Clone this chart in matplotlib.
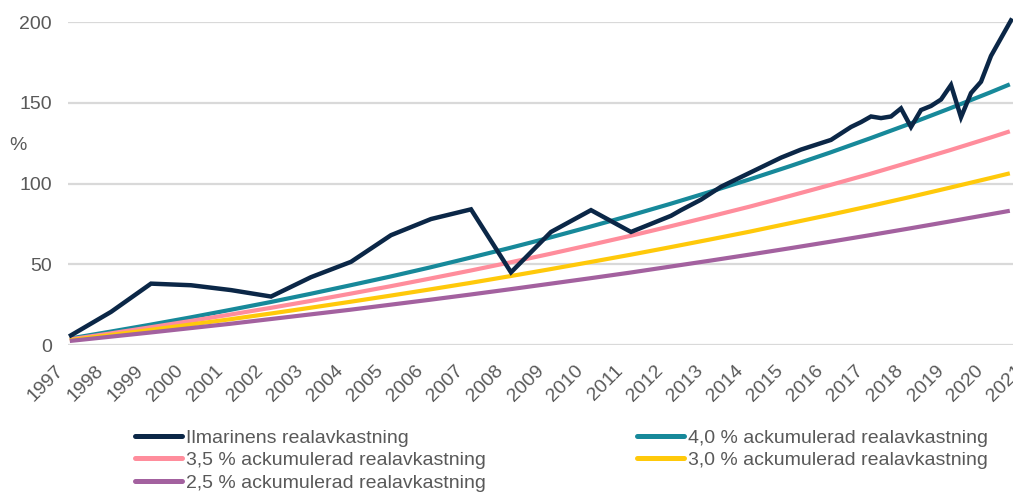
import matplotlib
matplotlib.use("Agg")
import matplotlib.pyplot as plt

# ---------------- data ----------------
year_labels = [str(y) for y in range(1997, 2022)]
year_pos = list(range(1997, 2022))

# Ilmarinen cumulative real return (%), time in decimal years on the chart axis
ilm_t = [1997.35, 1998.35, 1999.35, 2000.35, 2001.35, 2002.35, 2003.35, 2004.35,
         2005.35, 2006.35, 2007.35, 2008.35, 2009.35, 2010.35, 2011.35, 2012.35,
         2012.6, 2013.1, 2013.6, 2014.1, 2014.6, 2015.1, 2015.6, 2016.1, 2016.35,
         2016.6, 2016.85, 2017.1, 2017.35, 2017.6, 2017.85, 2018.1, 2018.35,
         2018.6, 2018.85, 2019.1, 2019.35, 2019.6, 2019.85, 2020.1, 2020.35,
         2020.6, 2020.85]
ilm_v = [6, 20.5, 38, 37, 34, 30, 42, 51.5,
         68, 78, 84, 45, 70, 83.5, 70, 80,
         83.5, 90, 98, 104, 110, 116, 121, 125, 127,
         131, 135, 138, 141.5, 140.5, 141.5, 146.5, 135,
         145.5, 148, 152, 161, 141, 156, 163, 179,
         190, 201]

acc_t = [1997.32, 1998.32, 1999.32, 2000.32, 2001.32, 2002.32, 2003.32, 2004.32,
         2005.32, 2006.32, 2007.32, 2008.32, 2009.32, 2010.32, 2011.32, 2012.32,
         2013.32, 2014.32, 2015.32, 2016.32, 2017.32, 2018.32, 2019.32, 2020.32,
         2020.82]
acc_40 = [4.0, 8.2, 12.5, 17.0, 21.7, 26.5, 31.6, 36.9, 42.3, 48.0, 54.0, 60.1,
          66.5, 73.2, 80.1, 87.3, 94.8, 102.6, 110.7, 119.1, 127.9, 137.0, 146.5,
          156.3, 161.4]
acc_35 = [3.5, 7.1, 10.9, 14.8, 18.8, 22.9, 27.2, 31.7, 36.3, 41.1, 46.0, 51.1,
          56.4, 61.9, 67.5, 73.4, 79.5, 85.7, 92.3, 99.0, 105.9, 113.2, 120.6,
          128.3, 132.3]
acc_30 = [3.0, 6.1, 9.3, 12.6, 15.9, 19.4, 23.0, 26.7, 30.5, 34.4, 38.4, 42.6,
          46.9, 51.3, 55.8, 60.5, 65.3, 70.2, 75.4, 80.6, 86.0, 91.6, 97.4,
          103.3, 106.3]
acc_25 = [2.5, 5.1, 7.7, 10.4, 13.1, 16.0, 18.9, 21.8, 24.9, 28.0, 31.2, 34.5,
          37.9, 41.3, 44.8, 48.5, 52.2, 56.0, 59.9, 63.9, 68.0, 72.2, 76.5,
          80.9, 83.1]

names = ["Ilmarinens realavkastning",
         "4,0 % ackumulerad realavkastning",
         "3,5 % ackumulerad realavkastning",
         "3,0 % ackumulerad realavkastning",
         "2,5 % ackumulerad realavkastning"]
colors = ["#0b2747", "#17899a", "#ff8d9c", "#ffc90a", "#a3619f"]
y_ticks = [0, 50, 100, 150, 200]

# ---------------- figure ----------------
plt.rcParams["font.family"] = ["Liberation Sans", "DejaVu Sans"]
W, H = 1013, 494
fig = plt.figure(figsize=(W / 100, H / 100), dpi=100)
ax = fig.add_axes([68 / W, (H - 345) / H, (W - 68) / W, 323 / H])

TXT = "#595959"

ax.set_xlim(1997 + 11 / 40, 1997 + 956 / 40)
ax.set_ylim(0, 200)
for s in ax.spines.values():
    s.set_visible(False)
ax.set_axisbelow(True)
ax.grid(axis="y", color="#d9d9d9", lw=1.6)
ax.set_xticks([])
ax.set_yticks(y_ticks)
ax.tick_params(axis="y", length=0, pad=11.5, labelsize=14, labelcolor=TXT)

lw = 3.0
h40, = ax.plot(acc_t, acc_40, color=colors[1], lw=lw, solid_capstyle="butt")
h35, = ax.plot(acc_t, acc_35, color=colors[2], lw=lw, solid_capstyle="butt")
h30, = ax.plot(acc_t, acc_30, color=colors[3], lw=lw, solid_capstyle="butt")
h25, = ax.plot(acc_t, acc_25, color=colors[4], lw=lw, solid_capstyle="butt")
hil, = ax.plot(ilm_t, ilm_v, color=colors[0], lw=3.2, clip_on=False,
               solid_joinstyle="miter", zorder=3)

# rotated year labels
for yp, lab in zip(year_pos, year_labels):
    ax.annotate(lab, xy=(yp, 0), xycoords=("data", "axes fraction"),
                xytext=(-2, -17), textcoords="offset pixels",
                rotation=45, rotation_mode="anchor", ha="right", va="top",
                fontsize=14, color=TXT, annotation_clip=False)

fig.text(18 / W, 1 - 145 / H, "%", fontsize=14, color=TXT,
         ha="center", va="center")

leg_kw = dict(frameon=False, fontsize=14, handlelength=2.42,
              handletextpad=0.18, labelspacing=0.26, borderpad=0,
              borderaxespad=0, loc="upper left", labelcolor=TXT)
leg1 = fig.legend([hil, h35, h25], [names[0], names[2], names[4]],
                  bbox_to_anchor=(135 / W, 1 - 429 / H), **leg_kw)
leg2 = fig.legend([h40, h30], [names[1], names[3]],
                  bbox_to_anchor=(637 / W, 1 - 429 / H), **leg_kw)
for lg in (leg1, leg2):
    for ln in lg.get_lines():
        ln.set_linewidth(3.6)
        ln.set_solid_capstyle("round")

fig.savefig("out.png", dpi=100)
